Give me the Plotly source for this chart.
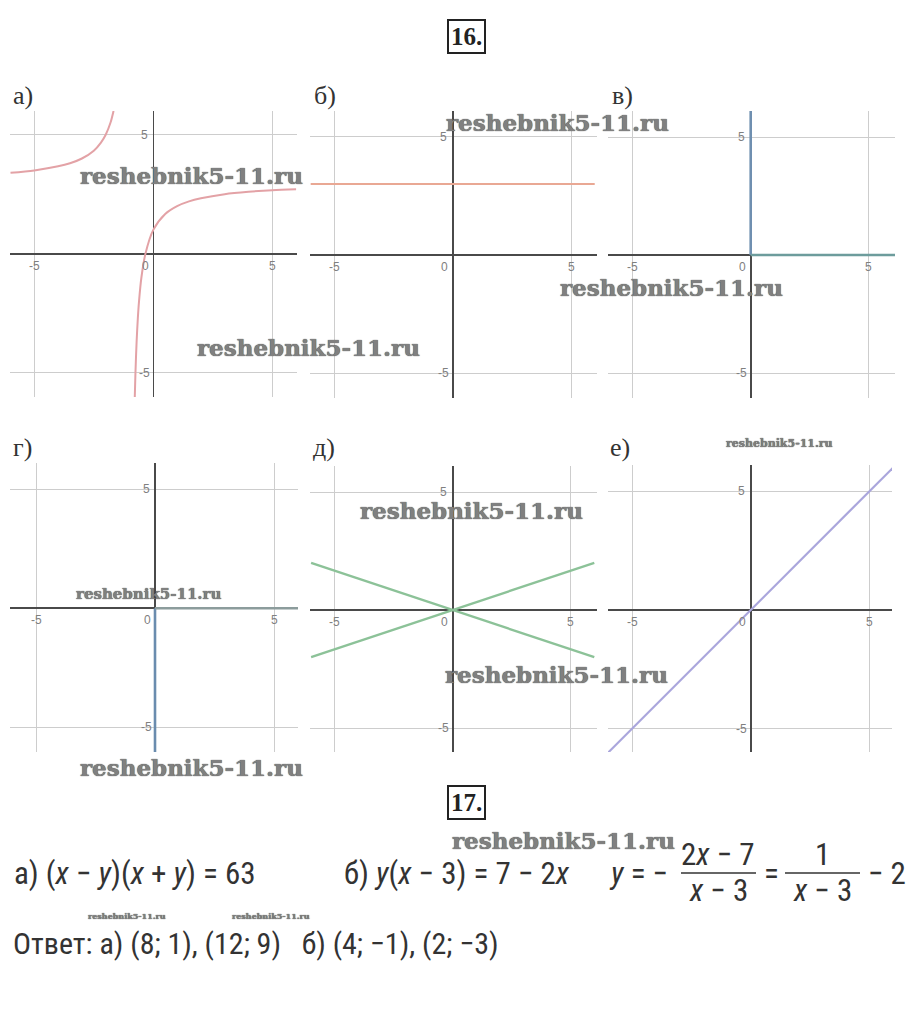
import plotly.graph_objects as go

W, H = 912, 1028

# ---------------- data ----------------
# а) hyperbola, two branches
a_left_x = [-6, -5, -4, -3.5, -3, -2.5, -2.2, -2, -1.8, -1.67]
a_left_y = [3.4, 3.5, 3.67, 3.8, 4.0, 4.33, 4.67, 5.0, 5.5, 6.0]
a_right_x = [-0.78, -0.75, -0.7, -0.65, -0.6, -0.5, -0.33, 0, 0.5, 1, 1.5, 2, 3, 4, 5, 6]
a_right_y = [-6.1, -5.0, -3.67, -2.71, -2.0, -1.0, 0.0, 1.0, 1.67, 2.0, 2.2, 2.33, 2.5, 2.6, 2.67, 2.71]
# б) horizontal line
b_x = [-6, 6]
b_y = [3, 3]
# в) two rays
v_ray1_x, v_ray1_y = [0, 0], [0, 6.2]
v_ray2_x, v_ray2_y = [0, 6.2], [0, 0]
# г) two rays
g_ray1_x, g_ray1_y = [0, 0], [0, -6.2]
g_ray2_x, g_ray2_y = [0, 6.2], [0, 0]
# д) two lines
d_line1_x, d_line1_y = [-6, 6], [2, -2]
d_line2_x, d_line2_y = [-6, 6], [-2, 2]
# е) line
e_x, e_y = [-6.2, 6.2], [-6.2, 6.2]

grid_vals = [-5, 5]
x_tick_labels = ["-5", "0", "5"]
y_tick_labels = ["5", "-5"]
panel_labels = ["а)", "б)", "в)", "г)", "д)", "е)"]
watermark = "reshebnik5-11.ru"

# ---------------- layout helpers ----------------
# origin pixel, unit (px), box L R T B
panels = [
    dict(ox=153.3, oy=253.7, u=23.8, L=10, R=297, T=111, B=397),
    dict(ox=452.7, oy=255.0, u=23.67, L=310, R=597, T=111, B=398),
    dict(ox=750.7, oy=255.0, u=23.6, L=608, R=895, T=111, B=398),
    dict(ox=155.0, oy=608.3, u=23.8, L=10, R=298, T=463, B=752),
    dict(ox=452.7, oy=610.0, u=23.6, L=310, R=597, T=466, B=752),
    dict(ox=750.7, oy=610.0, u=23.7, L=608, R=892, T=465, B=752),
]


def px(x):
    return x / W


def py(y):
    return 1 - y / H


fig = go.Figure()

traces = [
    (1, a_left_x, a_left_y, "#e3a2a6", 2, "spline"),
    (1, a_right_x, a_right_y, "#e3a2a6", 2, "spline"),
    (2, b_x, b_y, "#e9a894", 2.2, "linear"),
    (3, v_ray1_x, v_ray1_y, "#6f8fb0", 2.6, "linear"),
    (3, v_ray2_x, v_ray2_y, "#6d9c9c", 2.6, "linear"),
    (4, g_ray1_x, g_ray1_y, "#6a8cae", 2.6, "linear"),
    (4, g_ray2_x, g_ray2_y, "#8c9c9c", 2.6, "linear"),
    (5, d_line1_x, d_line1_y, "#8cc298", 2.4, "linear"),
    (5, d_line2_x, d_line2_y, "#8cc298", 2.4, "linear"),
    (6, e_x, e_y, "#aaa6dc", 2.2, "linear"),
]
for i, xs, ys, col, w, shape in traces:
    fig.add_trace(go.Scatter(
        x=xs, y=ys, mode="lines",
        line=dict(color=col, width=w, shape=shape, smoothing=0.8),
        xaxis=f"x{i}", yaxis=f"y{i}", hoverinfo="skip", showlegend=False,
        cliponaxis=True,
    ))

layout = dict(
    width=W, height=H, margin=dict(l=0, r=0, t=0, b=0),
    paper_bgcolor="white", plot_bgcolor="white", showlegend=False,
)
annotations = []
tick_font = dict(family="Liberation Sans, Arial, sans-serif", size=12, color="#808080")
for k, p in enumerate(panels, start=1):
    xr = [(p["L"] - p["ox"]) / p["u"], (p["R"] - p["ox"]) / p["u"]]
    yr = [(p["oy"] - p["B"]) / p["u"], (p["oy"] - p["T"]) / p["u"]]
    common = dict(
        tickmode="array", tickvals=grid_vals, showticklabels=False, ticks="",
        showgrid=True, gridcolor="#cdcdcd", gridwidth=1,
        zeroline=True, zerolinecolor="#4a4a4a", zerolinewidth=1.6,
        showline=False, fixedrange=True,
    )
    layout[f"xaxis{k}"] = dict(domain=[px(p["L"]), px(p["R"])], range=xr,
                               anchor=f"y{k}", **common)
    layout[f"yaxis{k}"] = dict(domain=[py(p["B"]), py(p["T"])], range=yr,
                               anchor=f"x{k}", **common)
    xa, ya = f"x{k}", f"y{k}"
    for val, lab in zip([-5, 0, 5], x_tick_labels):
        annotations.append(dict(
            x=val, y=0, xref=xa, yref=ya, text=lab, showarrow=False,
            xanchor="center", yanchor="middle",
            xshift=-8 if val == 0 else 0, yshift=-12, font=tick_font,
        ))
    for val, lab in zip([5, -5], y_tick_labels):
        annotations.append(dict(
            x=0, y=val, xref=xa, yref=ya, text=lab, showarrow=False,
            xanchor="center", yanchor="middle",
            xshift=-9, yshift=0, font=tick_font,
        ))

# panel letters
letter_pos = [(23, 95), (325, 95), (622, 95), (22, 447), (324, 447), (620, 447)]
for lab, (x, y) in zip(panel_labels, letter_pos):
    annotations.append(dict(
        x=px(x), y=py(y), xref="paper", yref="paper", text=lab, showarrow=False,
        xanchor="center", yanchor="middle",
        font=dict(family="Liberation Serif, DejaVu Serif, serif", size=26, color="#333"),
    ))

# boxed problem numbers
for txt, (x, y) in [("16.", (466, 37)), ("17.", (466, 802))]:
    annotations.append(dict(
        x=px(x), y=py(y), xref="paper", yref="paper", text=f"<b>{txt}</b>",
        showarrow=False, xanchor="center", yanchor="middle",
        font=dict(family="Liberation Serif, DejaVu Serif, serif", size=25, color="#222"),
        bordercolor="#222", borderwidth=2, borderpad=2, bgcolor="white",
    ))

# bottom formulas
ffont = dict(family="Liberation Sans Narrow, Roboto Condensed, Liberation Sans, sans-serif",
             size=31, color="#333")
texts = [
    ("а) (<i>x</i> − <i>y</i>)(<i>x</i> + <i>y</i>) = 63", 12, 873, "left"),
    ("б) <i>y</i>(<i>x</i> − 3) = 7 − 2<i>x</i>", 342, 873, "left"),
    ("<i>y</i> = −", 607, 873, "left"),
    ("2<i>x</i> − 7", 718, 854, "center"),
    ("<i>x</i> − 3", 718, 890, "center"),
    ("=", 771, 873, "center"),
    ("1", 822, 854, "center"),
    ("<i>x</i> − 3", 822, 890, "center"),
    ("− 2", 866, 873, "left"),
]
for txt, x, y, anc in texts:
    annotations.append(dict(
        x=px(x), y=py(y), xref="paper", yref="paper", text=txt, showarrow=False,
        xanchor=anc, yanchor="middle", font=ffont,
    ))
annotations.append(dict(
    x=px(12), y=py(943), xref="paper", yref="paper",
    text="Ответ: а) (8; 1), (12; 9)   б) (4; −1), (2; −3)", showarrow=False,
    xanchor="left", yanchor="middle", borderpad=0,
    font=dict(ffont, size=30),
))

shapes = [
    dict(type="line", xref="paper", yref="paper", x0=px(681), x1=px(756),
         y0=py(873), y1=py(873), line=dict(color="#333", width=1.5)),
    dict(type="line", xref="paper", yref="paper", x0=px(785), x1=px(860),
         y0=py(873), y1=py(873), line=dict(color="#333", width=1.5)),
]

# watermarks (center x, center y, size)
wm_pos = [
    (191, 175, 23), (557, 122, 23), (308, 347, 23), (671, 287, 23),
    (148, 594, 15), (471, 510, 23), (556, 674, 23), (191, 767, 23),
    (779, 443, 11), (563, 840, 23), (127, 916, 8), (271, 916, 8),
]
for x, y, s in wm_pos:
    annotations.append(dict(
        x=px(x), y=py(y), xref="paper", yref="paper", text=f"<b>{watermark}</b>",
        showarrow=False, xanchor="center", yanchor="middle", borderpad=0,
        font=dict(family="DejaVu Serif, Liberation Serif, serif", size=s, color="#808080",
                  shadow="0px 0px 1px #222"),
    ))

layout["annotations"] = annotations
layout["shapes"] = shapes
fig.update_layout(**layout)
fig.write_html("out.html", config={"displayModeBar": False, "staticPlot": True},
               post_script="document.body.style.margin='0';document.body.style.padding='0';")
